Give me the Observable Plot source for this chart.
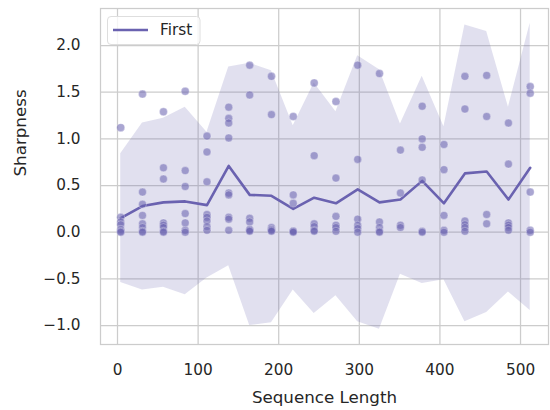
<!DOCTYPE html>
<html>
<head>
<meta charset="utf-8">
<script src="https://cdn.jsdelivr.net/npm/d3@7"></script>
<script src="https://cdn.jsdelivr.net/npm/@observablehq/plot@0.6"></script>
<style>
  html, body { margin: 0; padding: 0; background: white; }
</style>
</head>
<body>
<div id="chart"></div>
<script>
const seqLengths = [4, 31, 57, 84, 111, 138, 164, 191, 218, 244, 271, 298, 325, 351, 378, 405, 431, 458, 485, 512];
const meanSharpness = [0.15, 0.28, 0.32, 0.33, 0.29, 0.71, 0.40, 0.39, 0.25, 0.37, 0.31, 0.46, 0.32, 0.35, 0.55, 0.31, 0.63, 0.65, 0.35, 0.69];
const upperBand = [0.84, 1.17, 1.22, 1.34, 1.07, 1.77, 1.81, 1.73, 1.14, 1.60, 1.29, 1.89, 1.74, 1.16, 1.67, 1.13, 2.22, 2.15, 1.34, 2.24];
const lowerBand = [-0.54, -0.62, -0.59, -0.67, -0.49, -0.36, -1.00, -0.97, -0.62, -0.87, -0.68, -0.96, -1.04, -0.45, -0.55, -0.51, -0.96, -0.86, -0.64, -0.84];
const sampleSharpness = [
  [1.12, 0.16, 0.11, 0.08, 0.03, 0.01, 0.0],
  [1.48, 0.43, 0.30, 0.18, 0.09, 0.05, 0.01, 0.0],
  [1.29, 0.69, 0.57, 0.10, 0.075, 0.05, 0.01, 0.0],
  [1.51, 0.66, 0.49, 0.20, 0.10, 0.02, 0.0],
  [1.03, 0.86, 0.54, 0.19, 0.16, 0.12, 0.06, 0.02],
  [1.34, 1.22, 1.17, 1.01, 0.42, 0.40, 0.16, 0.14, 0.02],
  [1.79, 1.47, 0.15, 0.11, 0.03, 0.02, 0.01],
  [1.67, 1.26, 0.05, 0.03, 0.02, 0.01],
  [1.24, 0.40, 0.31, 0.01, 0.01, 0.0],
  [1.60, 0.82, 0.09, 0.06, 0.02, 0.01],
  [1.40, 0.58, 0.17, 0.075, 0.05, 0.01],
  [1.79, 0.78, 0.14, 0.075, 0.04, 0.0],
  [1.70, 0.11, 0.05, 0.01, 0.0],
  [0.88, 0.42, 0.075, 0.05],
  [1.35, 1.00, 0.91, 0.56, 0.01, 0.0],
  [0.94, 0.67, 0.18, 0.02, 0.0],
  [1.67, 1.32, 0.12, 0.08, 0.05, 0.01],
  [1.68, 1.24, 0.19, 0.09],
  [1.17, 0.73, 0.10, 0.075, 0.05, 0.02],
  [1.56, 1.49, 0.43, 0.02, 0.0]
];
const xTicks = [0, 100, 200, 300, 400, 500];
const yTicks = [-1.0, -0.5, 0.0, 0.5, 1.0, 1.5, 2.0];
const seriesName = "First";

const color = "#6a62b0";
const rows = seqLengths.map((x, i) => ({x, mean: meanSharpness[i], lo: lowerBand[i], hi: upperBand[i]}));
const samples = seqLengths.flatMap((x, i) => sampleSharpness[i].map(y => ({x, y})));

const svg = Plot.plot({
  width: 550,
  height: 410,
  marginLeft: 100,
  marginRight: 2,
  marginTop: 8,
  marginBottom: 66,
  x: {domain: [-21.1, 534.7]},
  y: {domain: [-1.203, 2.397]},
  style: {fontFamily: "DejaVu Sans", fontSize: "15.3px", color: "#262626", background: "white"},
  marks: [
    Plot.gridX(xTicks, {stroke: "#cccccc", strokeOpacity: 1, strokeWidth: 1.25}),
    Plot.gridY(yTicks, {stroke: "#cccccc", strokeOpacity: 1, strokeWidth: 1.25}),
    Plot.areaY(rows, {x: "x", y1: "lo", y2: "hi", fill: color, fillOpacity: 0.2}),
    Plot.lineY(rows, {x: "x", y: "mean", stroke: color, strokeWidth: 2.6}),
    Plot.dot(samples, {x: "x", y: "y", r: 4, fill: color, fillOpacity: 0.57, stroke: "white", strokeWidth: 0.5, strokeOpacity: 0.6}),
    Plot.frame({stroke: "#cccccc", strokeWidth: 1.25}),
    Plot.axisX(xTicks, {tickSize: 0, tickPadding: 20, label: null, fontSize: 15.3}),
    Plot.axisY(yTicks, {tickSize: 0, tickPadding: 20, label: null, fontSize: 15.3, tickFormat: d3.format(".1f")}),
    Plot.text(["Sequence Length"], {text: d => d, frameAnchor: "bottom", dy: 58, fontSize: 16.7}),
    Plot.text(["Sharpness"], {text: d => d, frameAnchor: "left", dx: -80, rotate: -90, fontSize: 16.7})
  ]
});

document.getElementById("chart").appendChild(svg);

// legend inside the plot area
const s = d3.select(svg);
const g = s.append("g").attr("font-family", "DejaVu Sans").attr("font-size", "15.3px").attr("text-anchor", "start");
g.append("rect").attr("x", 107.5).attr("y", 16.5).attr("width", 92.5).attr("height", 28)
  .attr("rx", 3.5).attr("fill", "white").attr("fill-opacity", 0.8).attr("stroke", "#dedede").attr("stroke-width", 1);
g.append("line").attr("x1", 113).attr("x2", 148).attr("y1", 30).attr("y2", 30)
  .attr("stroke", color).attr("stroke-width", 2.6);
g.append("text").attr("x", 160).attr("y", 30).attr("dy", "0.35em").attr("fill", "#262626").text(seriesName);
</script>
</body>
</html>
